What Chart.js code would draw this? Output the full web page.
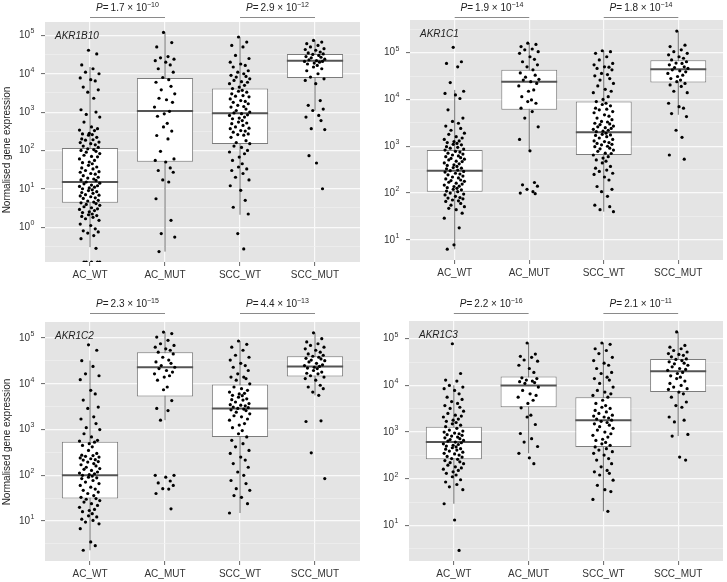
<!DOCTYPE html>
<html>
<head>
<meta charset="utf-8">
<script src="https://cdn.jsdelivr.net/npm/chart.js@4.4.1/dist/chart.umd.min.js"></script>
<style>
  body { margin: 0; background: #fff; width: 727px; height: 582px; position: relative; overflow: hidden; }
  canvas { position: absolute; }
</style>
</head>
<body>
<canvas id="c1" width="364" height="290" style="left:0;top:0"></canvas>
<canvas id="c2" width="363" height="290" style="left:364px;top:0"></canvas>
<canvas id="c3" width="364" height="292" style="left:0;top:290px"></canvas>
<canvas id="c4" width="363" height="292" style="left:364px;top:290px"></canvas>
<script>
// ================= DATA =================
const CATEGORIES = ["AC_WT", "AC_MUT", "SCC_WT", "SCC_MUT"];
const GENES = ["AKR1B10", "AKR1C1", "AKR1C2", "AKR1C3"];
const Y_TITLE = "Normalised gene expression";

// P values: AC_WT vs AC_MUT, SCC_WT vs SCC_MUT  (mantissa, exponent)
const P_AC_MANT = ["1.7", "1.9", "2.3", "2.2"];
const P_AC_EXP = [-10, -14, -15, -16];
const P_SCC_MANT = ["2.9", "1.8", "4.4", "2.1"];
const P_SCC_EXP = [-12, -14, -13, -11];

// y tick labels: 10^exponent
const Y_MAJOR = [0.1, 1, 10, 100, 1e3, 1e4, 1e5, 1e6];
const Y_EXP = ["\u22121", "0", "1", "2", "3", "4", "5", "6"];

// jitter offsets (category units), cycled through each group's points
const JITTER = [-0.02, 0.09, -0.11, 0.04, -0.06, 0.12, -0.13, 0.01, 0.07, -0.09, 0.11, -0.03, 0.05,
  -0.12, 0.08, -0.05, 0.13, -0.08, 0.02, 0.10, -0.14, 0.06, -0.01, -0.10, 0.03];

// boxes: [lower whisker, q1, median, q3, upper whisker]
// ---- AKR1B10 ----  (0 = zero expression, drawn at the axis floor)
const b10_AC_WT = [4.1e4, 3.3e4, 1.7e4, 1.35e4, 1.1e4, 1e4, 7.8e3, 7e3, 6.5e3, 4.5e3, 3.8e3, 3.3e3, 2.3e3, 1.15e3, 1e3, 870, 740, 550, 410, 370, 340, 330, 280, 270, 260, 250, 220, 200, 190, 185, 165, 160, 150, 140, 130, 120, 110, 105, 100, 95, 90, 83, 75, 70, 68, 60, 55, 50, 48, 45, 41, 37, 35, 33, 30, 28, 27, 25, 24, 22, 20, 19, 18, 17, 16.5, 15, 14, 13.5, 12.5, 12, 11.5, 11, 10.5, 10, 9.4, 9, 8.4, 8, 7.6, 7, 6.8, 6.5, 6.2, 5.8, 5.6, 5, 4.8, 4.5, 4.3, 4.1, 3.9, 3.7, 3.4, 3.2, 3, 2.9, 2.7, 2.5, 2.4, 2.2, 2.1, 2, 1.9, 1.8, 1.65, 1.5, 1.2, 1.1, 0.9, 0.8, 0.75, 0.7, 0.6, 0.5, 0.28, 0, 0, 0, 0, 0];
const b10_AC_MUT = [1.2e5, 6.5e4, 5e4, 2.8e4, 2.6e4, 2.4e4, 2.2e4, 2e4, 1.7e4, 1.35e4, 1.1e4, 8e3, 7e3, 6e3, 4.7e3, 3.8e3, 3e3, 2.3e3, 2.1e3, 1.8e3, 1.35e3, 1.05e3, 900, 780, 510, 410, 320, 245, 200, 95, 60, 55, 50, 35, 30, 27, 17, 15, 5.5, 1.5, 0.68, 0.55, 0.23];
const b10_SCC_WT = [9.1e4, 6.7e4, 5.5e4, 5e4, 3e4, 2.5e4, 2e4, 1.8e4, 1.65e4, 1.5e4, 1.2e4, 1.1e4, 1e4, 9.1e3, 8.5e3, 8.2e3, 7.4e3, 6.7e3, 6.2e3, 6e3, 5.5e3, 5e3, 4.5e3, 4.1e3, 3.7e3, 3.5e3, 3.3e3, 3e3, 2.7e3, 2.6e3, 2.5e3, 2.2e3, 2e3, 1.9e3, 1.8e3, 1.65e3, 1.5e3, 1.4e3, 1.35e3, 1.2e3, 1.1e3, 1e3, 950, 910, 850, 820, 740, 700, 670, 600, 550, 520, 500, 450, 410, 380, 370, 330, 320, 300, 270, 260, 250, 220, 180, 160, 150, 130, 120, 100, 91, 82, 67, 55, 45, 37, 33, 30, 25, 20, 17, 12, 9.1, 5, 3.3, 2.2, 0.68, 0.27];
const b10_SCC_MUT = [7.4e4, 6.7e4, 6.1e4, 5.5e4, 5e4, 4.5e4, 4.3e4, 4.1e4, 3.7e4, 3.5e4, 3.3e4, 3.2e4, 3e4, 2.8e4, 2.7e4, 2.6e4, 2.4e4, 2.3e4, 2.2e4, 2.1e4, 2.1e4, 2e4, 1.9e4, 1.8e4, 1.65e4, 1.5e4, 1.35e4, 1.2e4, 1e4, 8.2e3, 7.4e3, 6.7e3, 5.5e3, 2e3, 1.5e3, 1.2e3, 1.1e3, 820, 740, 600, 370, 350, 73, 47, 10];
const b10_BOX = [[0.3, 4.3, 15, 115, 1.5e4], [0.23, 51, 1.07e3, 7.7e3, 1.2e5], [2.1, 147, 940, 4.1e3, 9e4], [1.1e3, 7.7e3, 2.2e4, 3.3e4, 7.4e4]];

// ---- AKR1C1 ----
const c1_AC_WT = [1.3e5, 6.4e4, 5.9e4, 5e4, 2.3e4, 1.5e4, 1.35e4, 1.25e4, 1.05e4, 6e3, 4e3, 3.4e3, 3.1e3, 2.7e3, 2.4e3, 2.2e3, 1.9e3, 1.8e3, 1.6e3, 1.5e3, 1.4e3, 1.3e3, 1.26e3, 1.2e3, 1.15e3, 1.1e3, 1.07e3, 980, 950, 910, 870, 830, 780, 750, 710, 680, 650, 620, 600, 570, 550, 530, 510, 480, 470, 440, 420, 400, 390, 370, 350, 340, 330, 310, 300, 290, 280, 265, 255, 245, 230, 220, 210, 200, 190, 185, 178, 170, 162, 155, 148, 140, 138, 130, 126, 120, 117, 110, 107, 100, 95, 91, 85, 80, 78, 75, 71, 68, 66, 60, 55, 51, 47, 44, 37, 29, 18, 7.8, 6.3];
const c1_AC_MUT = [1.6e5, 1.5e5, 1.35e5, 1.2e5, 1.15e5, 1.05e5, 9.7e4, 8.2e4, 7.2e4, 6.4e4, 5.5e4, 5e4, 4.3e4, 3.7e4, 3.3e4, 3e4, 2.7e4, 2.6e4, 2.4e4, 2.2e4, 1.95e4, 1.6e4, 1.5e4, 1.15e4, 9.8e3, 9e3, 8.3e3, 6.5e3, 5.5e3, 4e3, 2.6e3, 1.4e3, 800, 168, 150, 140, 120, 107, 100, 97];
const c1_SCC_WT = [1.1e5, 1.05e5, 9.7e4, 8.2e4, 7e4, 5.9e4, 5.5e4, 5e4, 4.9e4, 4.6e4, 4.3e4, 3.6e4, 3.4e4, 3.2e4, 2.8e4, 2.6e4, 2.2e4, 1.95e4, 1.65e4, 1.5e4, 1.4e4, 1.15e4, 1e4, 9e3, 8.3e3, 7.8e3, 7.3e3, 6.5e3, 6.2e3, 6e3, 5.5e3, 5.2e3, 4.7e3, 4.4e3, 4e3, 3.7e3, 3.4e3, 3.3e3, 3.1e3, 3e3, 2.9e3, 2.7e3, 2.6e3, 2.5e3, 2.4e3, 2.3e3, 2.2e3, 2.1e3, 2.05e3, 1.9e3, 1.8e3, 1.75e3, 1.7e3, 1.6e3, 1.5e3, 1.4e3, 1.3e3, 1.26e3, 1.2e3, 1.15e3, 1.1e3, 1.07e3, 1e3, 980, 910, 880, 830, 780, 710, 700, 650, 600, 560, 510, 480, 440, 370, 340, 310, 290, 265, 250, 220, 190, 138, 120, 107, 85, 55, 51, 44, 40];
const c1_SCC_MUT = [2.9e5, 1.45e5, 1.35e5, 1.15e5, 1.05e5, 9.7e4, 9e4, 8.2e4, 7.6e4, 7e4, 6.4e4, 6e4, 5.9e4, 5.5e4, 5e4, 4.8e4, 4.6e4, 4.3e4, 4.1e4, 3.9e4, 3.6e4, 3.3e4, 3.1e4, 2.8e4, 2.6e4, 2.4e4, 2.2e4, 2.05e4, 1.9e4, 1.5e4, 1.4e4, 8.3e3, 7e3, 6.5e3, 5e3, 4.3e3, 2.2e3, 1.55e3, 650, 530];
const c1_BOX = [[6.3, 107, 300, 830, 1.6e4], [800, 6e3, 2.4e4, 4.3e4, 1.6e5], [40, 650, 2e3, 9e3, 1.1e5], [4.7e3, 2.3e4, 4.4e4, 6.9e4, 2.9e5]];

// ---- AKR1C2 ----
const c2_AC_WT = [7.1e4, 5.4e4, 3.2e4, 2.4e4, 1.65e4, 1.5e4, 1.23e4, 7.2e3, 6e3, 4.4e3, 3.1e3, 2.9e3, 1.9e3, 1.7e3, 1.35e3, 1.1e3, 1e3, 810, 690, 580, 560, 530, 490, 450, 420, 350, 300, 275, 270, 260, 250, 240, 230, 220, 215, 200, 195, 180, 170, 160, 150, 140, 135, 128, 118, 112, 108, 104, 100, 96, 91, 88, 85, 77, 71, 66, 60, 55, 50, 47, 43, 40, 36, 33, 31, 30, 28, 26, 24, 22, 20, 18, 17, 16, 14.5, 13, 12.3, 11, 10.3, 9.5, 8.7, 6.8, 3.5, 2.9, 2.3];
const c2_AC_MUT = [1.35e5, 1.25e5, 1.05e5, 8.9e4, 7.5e4, 6.9e4, 6.3e4, 5.8e4, 5.4e4, 4.9e4, 4.5e4, 3.8e4, 3.3e4, 3e4, 2.8e4, 2.5e4, 2.3e4, 2.15e4, 1.95e4, 1.8e4, 1.65e4, 1.5e4, 1.4e4, 1.2e4, 8.5e3, 7.4e3, 4.3e3, 2.9e3, 2.6e3, 1.6e3, 100, 100, 91, 75, 68, 60, 51, 50, 40, 18.5];
const c2_SCC_WT = [8.6e4, 7.3e4, 6.3e4, 5.4e4, 4.2e4, 3.8e4, 3.3e4, 2.8e4, 2.5e4, 2.3e4, 1.95e4, 1.65e4, 1.4e4, 1.4e4, 1.3e4, 1.2e4, 1e4, 8.5e3, 7.8e3, 7.2e3, 6.6e3, 6.2e3, 6e3, 5.6e3, 5.5e3, 5.1e3, 4.7e3, 4.5e3, 4.4e3, 4e3, 3.7e3, 3.5e3, 3.4e3, 3.3e3, 3.1e3, 3e3, 2.9e3, 2.8e3, 2.7e3, 2.6e3, 2.4e3, 2.2e3, 2e3, 1.9e3, 1.7e3, 1.6e3, 1.35e3, 1.25e3, 1.1e3, 950, 810, 690, 580, 490, 420, 350, 300, 250, 215, 180, 150, 118, 100, 77, 66, 51, 47, 36, 33, 24, 15];
const c2_SCC_MUT = [1.3e5, 9.7e4, 8.2e4, 7.5e4, 6.9e4, 6.3e4, 5.8e4, 5.4e4, 4.9e4, 4.5e4, 4.2e4, 4e4, 3.8e4, 3.6e4, 3.5e4, 3.3e4, 3.2e4, 3e4, 2.8e4, 2.6e4, 2.5e4, 2.4e4, 2.3e4, 2.2e4, 2.15e4, 1.95e4, 1.8e4, 1.7e4, 1.65e4, 1.5e4, 1.4e4, 1.3e4, 1.2e4, 9.3e3, 8.5e3, 7.8e3, 6.6e3, 5.6e3, 1.5e3, 1.55e3, 310, 85];
const c2_BOX = [[2.3, 31, 100, 540, 3.2e4], [1.6e3, 5.3e3, 2.3e4, 4.9e4, 1.35e5], [15, 690, 2.9e3, 9.6e3, 8.6e4], [5.6e3, 1.45e4, 2.4e4, 4e4, 1.3e5]];

// ---- AKR1C3 ----
const c3_AC_WT = [7.8e4, 1.8e4, 1.3e4, 1.24e4, 1e4, 9.2e3, 8.5e3, 7.8e3, 6.6e3, 5.6e3, 5e3, 4.5e3, 4.1e3, 3.7e3, 3.4e3, 3.2e3, 2.8e3, 2.5e3, 2.3e3, 2.2e3, 2.1e3, 1.9e3, 1.8e3, 1.7e3, 1.6e3, 1.5e3, 1.4e3, 1.3e3, 1.2e3, 1.1e3, 1.05e3, 1e3, 950, 920, 880, 850, 820, 780, 750, 720, 690, 660, 640, 610, 590, 560, 540, 520, 500, 480, 460, 440, 430, 410, 390, 370, 350, 340, 320, 300, 290, 270, 260, 245, 230, 220, 210, 195, 180, 170, 160, 150, 140, 130, 120, 110, 95, 85, 75, 67, 58, 29, 13, 2.9];
const c3_AC_MUT = [8.1e4, 4.7e4, 4.2e4, 4e4, 3.5e4, 3.3e4, 2.7e4, 2.3e4, 1.9e4, 1.45e4, 1.4e4, 1.3e4, 1.24e4, 1.2e4, 1.15e4, 1.1e4, 9.2e3, 7.8e3, 6.6e3, 6.1e3, 5.6e3, 4.8e3, 4.1e3, 3.3e3, 2.3e3, 2.1e3, 1.45e3, 930, 720, 610, 490, 350, 280, 210];
const c3_SCC_WT = [8.1e4, 7.6e4, 6.1e4, 5.6e4, 4.8e4, 4e4, 3.4e4, 3e4, 2.7e4, 2.3e4, 1.9e4, 1.8e4, 1.5e4, 1.4e4, 1.3e4, 1.1e4, 9.2e3, 7.8e3, 7.2e3, 6.6e3, 6.1e3, 5.6e3, 4.8e3, 4.1e3, 3.7e3, 3.4e3, 3.2e3, 2.9e3, 2.7e3, 2.5e3, 2.3e3, 2.2e3, 2.1e3, 2e3, 1.9e3, 1.8e3, 1.7e3, 1.6e3, 1.5e3, 1.4e3, 1.3e3, 1.2e3, 1.1e3, 1e3, 920, 850, 780, 700, 660, 600, 560, 520, 480, 440, 410, 380, 350, 320, 270, 250, 210, 180, 150, 140, 130, 120, 93, 72, 58, 53, 36, 20];
const c3_SCC_MUT = [1.4e5, 7.2e4, 6.6e4, 6.1e4, 5.6e4, 5.2e4, 4.8e4, 4.6e4, 4.4e4, 4.1e4, 3.7e4, 3.6e4, 3.4e4, 3.2e4, 3e4, 2.9e4, 2.7e4, 2.5e4, 2.3e4, 2.2e4, 2.1e4, 1.9e4, 1.8e4, 1.6e4, 1.5e4, 1.4e4, 1.24e4, 1.1e4, 1e4, 9.2e3, 8.5e3, 8.2e3, 7.2e3, 6.6e3, 5.6e3, 4.4e3, 3.7e3, 3.4e3, 2.1e3, 1.8e3, 1.65e3, 890, 820, 290, 250];
const c3_BOX = [[29, 260, 610, 1.3e3, 1e4], [350, 3.4e3, 1e4, 1.55e4, 8.1e4], [20, 480, 1.8e3, 5.6e3, 8.1e4], [820, 7.2e3, 2e4, 3.7e4, 1.4e5]];

// ================= HELPERS =================
const FONT = '"Liberation Sans", Arial, Helvetica, sans-serif';
Chart.defaults.font.family = FONT;
Chart.defaults.font.size = 10;
Chart.defaults.color = "#333";

function jitterPoints(groups, yMin) {
  const pts = [];
  groups.forEach((vals, g) => {
    vals.forEach((v, i) => {
      pts.push({ x: g + 1 + JITTER[i % JITTER.length], y: v === 0 ? yMin : v });
    });
  });
  return pts;
}

function whiskerSegments(boxes) {
  const d = [];
  boxes.forEach((b, g) => {
    d.push({ x: g + 1, y: b[0] }, { x: g + 1, y: b[4] }, { x: g + 1, y: null });
  });
  return d;
}

function medianSegments(boxes) {
  const d = [];
  boxes.forEach((b, g) => {
    d.push({ x: g + 1 - 0.375, y: b[2] }, { x: g + 1 + 0.375, y: b[2] }, { x: g + 1 + 0.375, y: null });
  });
  return d;
}

function drawPValue(ctx, x1, x2, lineY, mant, exp) {
  ctx.save();
  ctx.strokeStyle = "#8a8a8a";
  ctx.lineWidth = 1;
  ctx.beginPath();
  ctx.moveTo(x1, lineY + 0.5);
  ctx.lineTo(x2, lineY + 0.5);
  ctx.stroke();

  const parts = [
    ["P", "italic 10px " + FONT, 0],
    ["=\u2009", "10px " + FONT, 0],
    [mant + " \u00D7 10", "10px " + FONT, 0],
    ["\u2212" + Math.abs(exp), "7px " + FONT, -4]
  ];
  let total = 0;
  parts.forEach(p => { ctx.font = p[1]; total += ctx.measureText(p[0]).width; });
  let x = (x1 + x2) / 2 - total / 2;
  const base = lineY - 6;
  ctx.fillStyle = "#222";
  ctx.textBaseline = "alphabetic";
  ctx.textAlign = "left";
  parts.forEach(p => {
    ctx.font = p[1];
    ctx.fillText(p[0], x, base + p[2]);
    x += ctx.measureText(p[0]).width;
  });
  ctx.restore();
}

// y labels "10" with a raised exponent, placed on the scale's own tick positions
function drawYLabels(chart) {
  const ys = chart.scales.y;
  const ctx = chart.ctx;
  const right = chart.chartArea.left - 11;
  ctx.save();
  ctx.fillStyle = "#333";
  ctx.textBaseline = "middle";
  ctx.textAlign = "left";
  ys.ticks.forEach(t => {
    const i = Y_MAJOR.indexOf(t.value);
    if (i < 0) return;
    const y = ys.getPixelForValue(t.value);
    ctx.font = "7px " + FONT;
    const we = ctx.measureText(Y_EXP[i]).width;
    ctx.font = "10px " + FONT;
    const wb = ctx.measureText("10").width;
    const x0 = right - we - wb;
    ctx.fillText("10", x0, y);
    ctx.font = "7px " + FONT;
    ctx.fillText(Y_EXP[i], x0 + wb + 0.5, y - 4);
  });
  ctx.restore();
}

// ================= PANEL =================
function makePanel(id, gi, groups, boxes, yMin, yMax, lay) {
  const panelPlugin = {
    id: "panel" + gi,
    beforeDraw(chart) {
      const a = chart.chartArea;
      const ctx = chart.ctx;
      ctx.save();
      ctx.fillStyle = "#e4e4e4";
      ctx.fillRect(a.left, a.top, a.right - a.left, a.bottom - a.top);
      ctx.restore();
    },
    afterDraw(chart) {
      const a = chart.chartArea;
      const ctx = chart.ctx;
      const xs = chart.scales.x;
      drawYLabels(chart);
      ctx.save();
      ctx.font = "italic 10px " + FONT;
      ctx.fillStyle = "#222";
      ctx.textBaseline = "middle";
      ctx.fillText(GENES[gi], a.left + 10, a.top + 14);
      if (lay.title) {
        // axis title, rotated, left edge of the panel
        ctx.translate(7, lay.titleY);
        ctx.rotate(-Math.PI / 2);
        ctx.textAlign = "center";
        ctx.font = "10px " + FONT;
        ctx.fillText(Y_TITLE, 0, 0);
      }
      ctx.restore();
      drawPValue(ctx, xs.getPixelForValue(1), xs.getPixelForValue(2), lay.pLine, P_AC_MANT[gi], P_AC_EXP[gi]);
      drawPValue(ctx, xs.getPixelForValue(3), xs.getPixelForValue(4), lay.pLine, P_SCC_MANT[gi], P_SCC_EXP[gi]);
    }
  };

  new Chart(document.getElementById(id), {
    type: "scatter",
    data: {
      datasets: [
        {
          type: "scatter",
          data: jitterPoints(groups, yMin),
          pointRadius: 1.6,
          pointBackgroundColor: "#000",
          pointBorderWidth: 0,
          order: 0
        },
        {
          type: "line",
          data: medianSegments(boxes),
          borderColor: "#555",
          borderWidth: 2,
          pointRadius: 0,
          spanGaps: false,
          fill: false,
          order: 1
        },
        {
          type: "bar",
          data: boxes.map((b, g) => ({ x: g + 1, y: [b[1], b[3]] })),
          backgroundColor: "#fff",
          borderColor: "#7c7c7c",
          borderWidth: 1,
          borderSkipped: false,
          categoryPercentage: 1,
          barPercentage: 0.75,
          order: 2
        },
        {
          type: "line",
          data: whiskerSegments(boxes),
          borderColor: "#707070",
          borderWidth: 1,
          pointRadius: 0,
          spanGaps: false,
          fill: false,
          order: 3
        }
      ]
    },
    options: {
      responsive: false,
      devicePixelRatio: 1,
      animation: false,
      layout: { padding: { top: lay.top, right: lay.right, left: 0, bottom: 0 } },
      plugins: { legend: { display: false }, tooltip: { enabled: false } },
      scales: {
        x: {
          type: "linear",
          min: 0.4,
          max: 4.6,
          offset: false,
          afterBuildTicks: s => { s.ticks = [1, 2, 3, 4].map(v => ({ value: v })); },
          afterFit: s => { s.height = lay.xh; s.paddingLeft = 0; s.paddingRight = 0; },
          grid: { offset: false, color: "#fafafa", lineWidth: 1.2, tickColor: "#666", tickLength: 4, tickWidth: 1 },
          border: { display: false },
          ticks: { autoSkip: false, maxRotation: 0, padding: 3, callback: v => CATEGORIES[v - 1] || "" }
        },
        y: {
          type: "logarithmic",
          min: yMin,
          max: yMax,
          afterBuildTicks: s => {
            const t = [];
            Y_MAJOR.forEach(v => {
              if (v >= s.min && v <= s.max) t.push({ value: v, major: true });
              const m = v * Math.sqrt(10);
              if (m >= s.min && m <= s.max) t.push({ value: m, major: false });
            });
            t.sort((a, b) => a.value - b.value);
            s.ticks = t;
          },
          afterFit: s => { s.width = lay.yw; s.paddingTop = 0; s.paddingBottom = 0; },
          grid: {
            color: c => c.tick && c.tick.major ? "#fafafa" : "#efefef",
            lineWidth: c => c.tick && c.tick.major ? 1.2 : 0.7,
            tickColor: c => c.tick && c.tick.major ? "#666" : "rgba(0,0,0,0)",
            tickLength: 4,
            tickWidth: 1
          },
          border: { display: false },
          ticks: { autoSkip: false, callback: () => "" }
        }
      }
    },
    plugins: [panelPlugin]
  });
}

// ================= INIT =================
makePanel("c1", 0, [b10_AC_WT, b10_AC_MUT, b10_SCC_WT, b10_SCC_MUT], b10_BOX, 0.123, 2.24e5,
  { top: 22, right: 2, yw: 45, xh: 28, pLine: 17, title: true, titleY: 150 });
makePanel("c2", 1, [c1_AC_WT, c1_AC_MUT, c1_SCC_WT, c1_SCC_MUT], c1_BOX, 3.7, 5e5,
  { top: 20, right: 0, yw: 46, xh: 30, pLine: 17, title: false });
makePanel("c3", 2, [c2_AC_WT, c2_AC_MUT, c2_SCC_WT, c2_SCC_MUT], c2_BOX, 1.34, 2.24e5,
  { top: 32, right: 2, yw: 45, xh: 21, pLine: 23, title: true, titleY: 152 });
makePanel("c4", 3, [c3_AC_WT, c3_AC_MUT, c3_SCC_WT, c3_SCC_MUT], c3_BOX, 1.72, 2.4e5,
  { top: 31, right: 0, yw: 45, xh: 21, pLine: 23, title: false });
</script>
</body>
</html>
